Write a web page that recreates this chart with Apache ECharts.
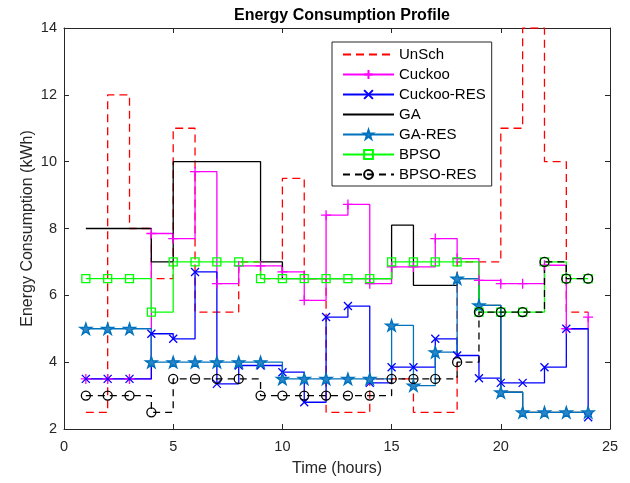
<!DOCTYPE html>
<html>
<head>
<meta charset="utf-8">
<title>Energy Consumption Profile</title>
<script src="https://cdn.jsdelivr.net/npm/echarts@6/dist/echarts.min.js"></script>
<style>
html, body { margin: 0; padding: 0; background: #fff; }
#main { width: 630px; height: 483px; }
</style>
</head>
<body>
<div id="main"></div>
<script>
// 横轴: 小时
var hours = [1, 2, 3, 4, 5, 6, 7, 8, 9, 10, 11, 12, 13, 14, 15, 16, 17, 18, 19, 20, 21, 22, 23, 24];
var xTicks = [0, 5, 10, 15, 20, 25];
var yTicks = [2, 4, 6, 8, 10, 12, 14];

// 各方案用电量 (kWh)
var unsch     = [2.5, 12, 8, 6.5, 11, 5.5, 5.5, 7, 6.5, 9.5, 6.5, 2.5, 2.5, 3.5, 3.5, 2.5, 2.5, 7, 7, 11, 14, 10, 5.5, 5.5];
var cuckoo    = [3.5, 3.5, 3.5, 7.85, 7.7, 9.7, 6.35, 6.88, 6.88, 6.7, 5.85, 8.4, 8.72, 6.35, 6.85, 6.85, 7.7, 7.1, 6.45, 6.35, 6.35, 6.9, 5.0, 5.35];
var cuckooRes = [3.5, 3.5, 3.5, 4.85, 4.7, 6.7, 3.35, 3.9, 3.9, 3.7, 2.8, 5.35, 5.68, 3.38, 3.85, 3.85, 4.7, 4.2, 3.52, 3.38, 3.38, 3.85, 5.0, 2.35];
var ga        = [8, 8, 8, 7, 10, 10, 10, 10, 7, 6.5, 6.5, 6.5, 6.5, 6.5, 8.1, 6.3, 6.3, 6.5, 5.7, 3.1, 2.5, 2.5, 2.5, 2.5];
var gaRes     = [5.0, 5.0, 5.0, 4.0, 4.0, 4.0, 4.0, 4.0, 4.0, 3.5, 3.5, 3.5, 3.5, 3.5, 5.1, 3.3, 4.3, 6.5, 5.7, 3.1, 2.5, 2.5, 2.5, 2.5];
var bpso      = [6.5, 6.5, 6.5, 5.5, 7, 7, 7, 7, 6.5, 6.5, 6.5, 6.5, 6.5, 6.5, 7, 7, 7, 7, 5.5, 5.5, 5.5, 7, 6.5, 6.5];
var bpsoRes   = [3, 3, 3, 2.5, 3.5, 3.5, 3.5, 3.5, 3, 3, 3, 3, 3, 3, 3.5, 3.5, 3.5, 4, 5.5, 5.5, 5.5, 7, 6.5, 6.5];

// 标记形状
var PLUS  = 'path://M5,0L5,10M0,5L10,5';
var CROSS = 'path://M0,0L10,10M10,0L0,10';
var STAR  = 'path://M50,0L61.2,34.5L97.6,34.5L68.2,55.9L79.4,90.5L50,69.1L20.6,90.5L31.8,55.9L2.4,34.5L38.8,34.5Z';

var FONT = '"Liberation Sans", Arial, Helvetica, sans-serif';
var AXIS_COLOR = '#262626';

function pairs(vals) {
	var out = [];
	for (var i = 0; i < hours.length; i++) {
		out.push([hours[i], vals[i]]);
	}
	return out;
}

function stairs(name, vals, color, symbol, size, dash, fill) {
	var noMark = symbol == 'none';
	return {
		name: name,
		type: 'line',
		step: 'end',
		data: pairs(vals),
		symbol: symbol,
		symbolSize: size,
		showSymbol: !noMark,
		symbolKeepAspect: true,
		lineStyle: { color: color, width: 1.3, type: dash || 'solid' },
		// 无标记的线, 图例里也不要画圆
		itemStyle: {
			color: fill || 'rgba(0,0,0,0)',
			borderColor: noMark ? 'rgba(0,0,0,0)' : color,
			borderWidth: noMark ? 0 : 1.3
		},
		emphasis: { disabled: true },
		z: 2
	};
}

function axisBase(extra) {
	var a = {
		type: 'value',
		axisLine: { show: true, onZero: false, lineStyle: { color: AXIS_COLOR, width: 1 } },
		axisTick: { show: true, inside: true, length: 5, lineStyle: { color: AXIS_COLOR } },
		splitLine: { show: false },
		axisLabel: { show: false }
	};
	for (var k in extra) a[k] = extra[k];
	return a;
}

var chart = echarts.init(document.getElementById('main'), null, { renderer: 'canvas' });

var option = {
	backgroundColor: '#fff',
	animation: false,
	textStyle: { fontFamily: FONT },
	title: {
		text: 'Energy Consumption Profile',
		left: 337,
		top: 3,
		textAlign: 'center',
		textStyle: { fontFamily: FONT, fontSize: 16, fontWeight: 'bold', color: '#000' }
	},
	grid: { left: 64, right: 20, top: 28, bottom: 54, containLabel: false },
	legend: {
		orient: 'vertical',
		left: 332,
		top: 42,
		padding: [5, 6, 4, 10],
		itemWidth: 51,
		itemHeight: 11,
		itemGap: 5,
		borderColor: AXIS_COLOR,
		borderWidth: 1,
		backgroundColor: '#fff',
		textStyle: { fontFamily: FONT, fontSize: 15, color: '#000' },
		data: ['UnSch', 'Cuckoo', 'Cuckoo-RES', 'GA', 'GA-RES', 'BPSO', 'BPSO-RES']
	},
	xAxis: [
		axisBase({
			position: 'bottom',
			min: xTicks[0],
			max: xTicks[xTicks.length - 1],
			interval: 5,
			name: 'Time (hours)',
			nameLocation: 'middle',
			nameGap: 32,
			nameMoveOverlap: false,
			nameTextStyle: { fontFamily: FONT, fontSize: 16, color: AXIS_COLOR },
			axisLabel: { show: true, margin: 10, fontFamily: FONT, fontSize: 14.5, color: AXIS_COLOR }
		}),
		axisBase({
			position: 'top',
			min: xTicks[0],
			max: xTicks[xTicks.length - 1],
			interval: 5
		})
	],
	yAxis: [
		axisBase({
			position: 'left',
			min: yTicks[0],
			max: yTicks[yTicks.length - 1],
			interval: 2,
			name: 'Energy Consumption (kWh)',
			nameLocation: 'middle',
			nameGap: 28,
			nameMoveOverlap: false,
			nameTextStyle: { fontFamily: FONT, fontSize: 16, color: AXIS_COLOR },
			axisLabel: { show: true, margin: 7, fontFamily: FONT, fontSize: 14.5, color: AXIS_COLOR }
		}),
		axisBase({
			position: 'right',
			min: yTicks[0],
			max: yTicks[yTicks.length - 1],
			interval: 2
		})
	],
	series: [
		stairs('UnSch', unsch, '#ff0000', 'none', 0, [8, 5]),
		stairs('Cuckoo', cuckoo, '#ff00ff', PLUS, 10),
		stairs('Cuckoo-RES', cuckooRes, '#0000ff', CROSS, 8),
		stairs('GA', ga, '#000000', 'none', 0),
		stairs('GA-RES', gaRes, '#0072bd', STAR, 12, null, '#2a86c8'),
		stairs('BPSO', bpso, '#00ff00', 'rect', 8),
		stairs('BPSO-RES', bpsoRes, '#000000', 'circle', 9, [7, 5])
	]
};

chart.setOption(option);
</script>
</body>
</html>
